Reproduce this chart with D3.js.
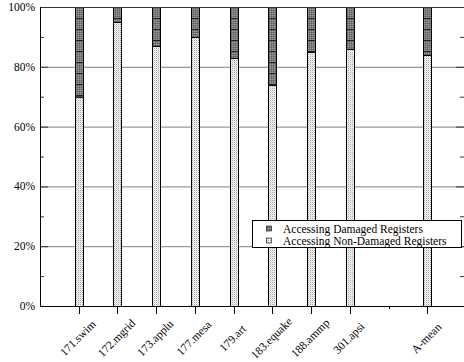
<!DOCTYPE html>
<html><head><meta charset="utf-8">
<script src="https://cdn.jsdelivr.net/npm/d3@7"></script>
<style>body{margin:0;background:#fff}svg{display:block}text{font-family:"Liberation Serif","Times New Roman",serif;fill:#000}</style>
</head><body><div id="chart"></div>
<script>
const categories = ["171.swim","172.mgrid","173.applu","177.mesa","179.art","183.equake","188.ammp","301.apsi","","A-mean"];
const nonDamaged = [70,95,87,90,83,74,85,86,null,84];
const damaged    = [30,5,13,10,17,26,15,14,null,16];
const yTicks = [0,20,40,60,80,100];
const yMinor = [10,30,50,70,90];
const seriesNames = ["Accessing Damaged Registers","Accessing Non-Damaged Registers"];

(function(){
const W=464,H=362;
const pL=40,pR=464,pT=7,pB=306;
const svg=d3.select("#chart").append("svg").attr("width",W).attr("height",H);
const defs=svg.append("defs");

const pl=defs.append("pattern").attr("id","pLight").attr("patternUnits","userSpaceOnUse").attr("width",2).attr("height",2);
pl.append("rect").attr("width",2).attr("height",2).attr("fill","#f4f4f4");
pl.append("rect").attr("width",1).attr("height",1).attr("fill","#a8a8a8");
pl.append("rect").attr("x",1).attr("y",1).attr("width",1).attr("height",1).attr("fill","#dcdcdc");
const pd=defs.append("pattern").attr("id","pDark").attr("patternUnits","userSpaceOnUse").attr("width",2).attr("height",11).attr("y",pT);
pd.append("rect").attr("width",2).attr("height",11).attr("fill","#7a7a7a");
for(let yy=0;yy<11;yy+=2){
  pd.append("rect").attr("x",0).attr("y",yy).attr("width",1).attr("height",1).attr("fill","#9a9a9a");
  pd.append("rect").attr("x",1).attr("y",yy+1).attr("width",1).attr("height",1).attr("fill","#5c5c5c");
}
pd.append("rect").attr("x",0).attr("y",0).attr("width",2).attr("height",1).attr("fill","#222");
const pd2=defs.append("pattern").attr("id","pDark2").attr("patternUnits","userSpaceOnUse").attr("width",2).attr("height",2);
pd2.append("rect").attr("width",2).attr("height",2).attr("fill","#7a7a7a");
pd2.append("rect").attr("width",1).attr("height",1).attr("fill","#9a9a9a");
pd2.append("rect").attr("x",1).attr("y",1).attr("width",1).attr("height",1).attr("fill","#5c5c5c");

const x=d3.scalePoint().domain(categories.map((c,i)=>i)).range([pL,466]).padding(1);
const y=d3.scaleLinear().domain([0,100]).range([pB,pT]);

svg.append("g").selectAll("line").data(yTicks.filter(t=>t>0&&t<100)).join("line")
  .attr("x1",pL).attr("x2",pR).attr("y1",d=>y(d)+0.5).attr("y2",d=>y(d)+0.5)
  .attr("stroke","#808080").attr("stroke-width",1);
const tk=svg.append("g");
yTicks.forEach(t=>{
  tk.append("line").attr("x1",pL).attr("x2",pL+8).attr("y1",y(t)+0.5).attr("y2",y(t)+0.5).attr("stroke","#333");
  tk.append("line").attr("x1",pR-8).attr("x2",pR).attr("y1",y(t)+0.5).attr("y2",y(t)+0.5).attr("stroke","#333");
});
yMinor.forEach(t=>{
  tk.append("line").attr("x1",pL).attr("x2",pL+4).attr("y1",y(t)+0.5).attr("y2",y(t)+0.5).attr("stroke","#333");
  tk.append("line").attr("x1",pR-4).attr("x2",pR).attr("y1",y(t)+0.5).attr("y2",y(t)+0.5).attr("stroke","#333");
});

const bw=8;
const data=categories.map((c,i)=>({i,c,nd:nonDamaged[i],d:damaged[i]})).filter(d=>d.nd!=null);
const bars=svg.append("g");
bars.selectAll("rect.nd").data(data).join("rect").attr("class","nd")
  .attr("x",d=>Math.round(x(d.i)-bw/2)+0.5).attr("width",bw)
  .attr("y",d=>y(d.nd)+0.5).attr("height",d=>y(0)-y(d.nd))
  .attr("fill","url(#pLight)").attr("stroke","#000").attr("stroke-width",1);
bars.selectAll("rect.dm").data(data).join("rect").attr("class","dm")
  .attr("x",d=>Math.round(x(d.i)-bw/2)+0.5).attr("width",bw)
  .attr("y",d=>y(d.nd+d.d)+0.5).attr("height",d=>y(d.nd)-y(d.nd+d.d))
  .attr("fill","url(#pDark)").attr("stroke","#000").attr("stroke-width",1);

svg.append("line").attr("x1",pL).attr("x2",pR).attr("y1",pT+0.5).attr("y2",pT+0.5).attr("stroke","#333");
svg.append("line").attr("x1",pL).attr("x2",pR).attr("y1",pB+0.5).attr("y2",pB+0.5).attr("stroke","#000");
svg.append("line").attr("x1",pL+0.5).attr("x2",pL+0.5).attr("y1",pT).attr("y2",pB+1).attr("stroke","#000");

categories.forEach((c,i)=>{
  const xx=Math.round(x(i))+0.5;
  svg.append("line").attr("x1",xx).attr("x2",xx).attr("y1",pB).attr("y2",c?pB+8:pB+3).attr("stroke","#000");
  if(c){
    svg.append("text").attr("transform",`translate(${x(i)-1},338) rotate(-45)`)
      .attr("text-anchor","middle").attr("dominant-baseline","central")
      .attr("font-size","11.5px").text(c);
  }
});

yTicks.forEach(t=>{
  svg.append("text").attr("x",35).attr("y",y(t)).attr("text-anchor","end")
    .attr("dominant-baseline","central").attr("font-size","11.5px").text(t+"%");
});

const lg=svg.append("g");
lg.append("rect").attr("x",252.5).attr("y",220.5).attr("width",209).attr("height",27).attr("fill","#fff").attr("stroke","#000");
const fills=["url(#pDark2)","url(#pLight)"];
seriesNames.forEach((s,k)=>{
  const cy=228.5+k*12;
  lg.append("rect").attr("x",266.5).attr("y",cy-2.5).attr("width",5).attr("height",5).attr("fill",fills[k]).attr("stroke","#000").attr("stroke-width",0.6);
  lg.append("text").attr("x",283).attr("y",cy).attr("dominant-baseline","central").attr("font-size","11.5px").text(s);
});
})();
</script></body></html>
